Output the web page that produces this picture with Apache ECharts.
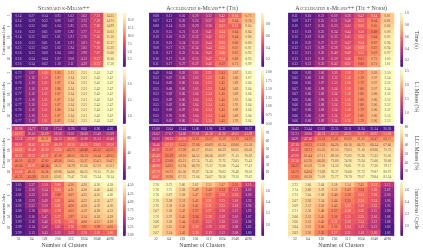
<!DOCTYPE html>
<html>
<head>
<meta charset="utf-8">
<style>
  html, body { margin: 0; padding: 0; background: #fff; }
  #chart { width: 423px; height: 249px; }
</style>
</head>
<body>
<div id="chart"></div>
<script src="https://cdn.jsdelivr.net/npm/echarts@6/dist/echarts.min.js"></script>
<script>
const clusters = ["32", "64", "128", "256", "512", "1024", "2048", "4096"];
const jobs = ["2", "4", "6", "8", "10", "12", "14", "16", "18", "20"];
const methods = ["Standard k-Means++", "Accelerated k-Means++ (Tie)", "Accelerated k-Means++ (Tie + Norm)"];
const metrics = ["Time (s)", "L1 Misses (%)", "LLC Misses (%)", "Instructions / Cycle"];

const timeStd = [
  [0.14, 0.27, 0.54, 0.95, 1.62, 3.62, 7.21, 14.35],
  [0.14, 0.29, 0.52, 0.90, 1.67, 3.75, 7.39, 14.75],
  [0.15, 0.32, 0.61, 1.04, 1.85, 3.75, 7.66, 14.99],
  [0.16, 0.32, 0.61, 0.99, 1.92, 3.77, 7.51, 15.03],
  [0.14, 0.32, 0.62, 1.01, 1.91, 3.76, 7.56, 15.10],
  [0.16, 0.32, 0.61, 1.01, 1.91, 3.81, 7.60, 15.17],
  [0.15, 0.33, 0.62, 1.02, 1.94, 3.85, 7.70, 15.30],
  [0.16, 0.33, 0.60, 1.04, 2.02, 3.99, 7.67, 15.66],
  [0.16, 0.34, 0.64, 1.07, 2.08, 4.13, 8.12, 16.36],
  [0.16, 0.34, 0.62, 1.10, 2.11, 4.39, 8.75, 17.38],
];
const timeTie = [
  [0.08, 0.11, 0.16, 0.29, 0.32, 0.42, 0.54, 0.75],
  [0.07, 0.12, 0.20, 0.26, 0.37, 0.49, 0.64, 0.76],
  [0.08, 0.14, 0.22, 0.29, 0.36, 0.52, 0.53, 0.84],
  [0.10, 0.15, 0.21, 0.31, 0.41, 0.54, 0.64, 0.84],
  [0.10, 0.16, 0.23, 0.32, 0.42, 0.53, 0.64, 0.86],
  [0.10, 0.16, 0.24, 0.33, 0.44, 0.55, 0.66, 0.89],
  [0.08, 0.17, 0.25, 0.34, 0.44, 0.55, 0.67, 0.91],
  [0.11, 0.17, 0.25, 0.34, 0.45, 0.56, 0.67, 0.93],
  [0.10, 0.17, 0.26, 0.35, 0.47, 0.54, 0.69, 0.95],
  [0.11, 0.17, 0.27, 0.37, 0.46, 0.59, 0.71, 0.99],
];
const timeNorm = [
  [0.11, 0.16, 0.21, 0.29, 0.36, 0.47, 0.54, 0.81],
  [0.09, 0.17, 0.25, 0.31, 0.40, 0.53, 0.64, 0.81],
  [0.10, 0.17, 0.26, 0.33, 0.43, 0.55, 0.65, 0.86],
  [0.13, 0.18, 0.25, 0.34, 0.44, 0.50, 0.60, 0.90],
  [0.10, 0.19, 0.26, 0.35, 0.45, 0.55, 0.64, 0.93],
  [0.10, 0.20, 0.27, 0.37, 0.47, 0.54, 0.67, 0.94],
  [0.12, 0.21, 0.29, 0.38, 0.48, 0.59, 0.67, 0.94],
  [0.12, 0.21, 0.30, 0.40, 0.49, 0.55, 0.67, 0.97],
  [0.13, 0.21, 0.30, 0.39, 0.48, 0.61, 0.72, 1.00],
  [0.13, 0.22, 0.32, 0.42, 0.51, 0.60, 0.71, 1.01],
];
const l1Std = [
  [0.73, 1.07, 1.60, 1.85, 2.13, 2.31, 2.41, 2.47],
  [0.77, 1.10, 1.50, 1.87, 2.14, 2.31, 2.42, 2.47],
  [0.76, 1.10, 1.51, 1.87, 2.14, 2.31, 2.42, 2.47],
  [0.77, 1.10, 1.50, 1.86, 2.14, 2.31, 2.42, 2.47],
  [0.77, 1.10, 1.51, 1.87, 2.14, 2.31, 2.42, 2.47],
  [0.77, 1.10, 1.51, 1.87, 2.14, 2.31, 2.42, 2.47],
  [0.77, 1.10, 1.51, 1.87, 2.14, 2.31, 2.42, 2.47],
  [0.76, 1.10, 1.51, 1.86, 2.14, 2.31, 2.42, 2.47],
  [0.77, 1.10, 1.51, 1.87, 2.14, 2.31, 2.42, 2.47],
  [0.77, 1.10, 1.51, 1.87, 2.14, 2.31, 2.42, 2.47],
];
const l1Tie = [
  [0.49, 0.64, 0.83, 1.02, 1.21, 1.41, 1.67, 2.05],
  [0.53, 0.67, 0.86, 1.03, 1.23, 1.45, 1.66, 2.07],
  [0.54, 0.69, 0.86, 1.04, 1.23, 1.45, 1.69, 2.04],
  [0.55, 0.68, 0.86, 1.03, 1.23, 1.44, 1.69, 2.04],
  [0.55, 0.69, 0.86, 1.04, 1.24, 1.45, 1.69, 2.04],
  [0.55, 0.69, 0.86, 1.04, 1.24, 1.45, 1.70, 2.04],
  [0.55, 0.69, 0.86, 1.04, 1.24, 1.45, 1.70, 2.04],
  [0.55, 0.69, 0.87, 1.04, 1.24, 1.45, 1.69, 2.04],
  [0.55, 0.70, 0.86, 1.04, 1.24, 1.44, 1.69, 2.04],
  [0.55, 0.69, 0.86, 1.04, 1.24, 1.45, 1.70, 2.04],
];
const l1Norm = [
  [0.60, 0.83, 1.06, 1.30, 1.56, 1.79, 2.03, 2.50],
  [0.65, 0.86, 1.06, 1.32, 1.56, 1.79, 2.07, 2.54],
  [0.66, 0.85, 1.07, 1.33, 1.56, 1.79, 2.07, 2.52],
  [0.67, 0.86, 1.08, 1.34, 1.56, 1.80, 2.07, 2.54],
  [0.67, 0.86, 1.08, 1.34, 1.56, 1.80, 2.06, 2.52],
  [0.66, 0.86, 1.08, 1.34, 1.56, 1.80, 2.06, 2.52],
  [0.66, 0.86, 1.08, 1.34, 1.56, 1.80, 2.06, 2.52],
  [0.67, 0.86, 1.08, 1.34, 1.56, 1.79, 2.06, 2.52],
  [0.66, 0.86, 1.09, 1.34, 1.57, 1.80, 2.06, 2.53],
  [0.66, 0.86, 1.09, 1.34, 1.56, 1.79, 2.06, 2.53],
];
const llcStd = [
  [28.96, 24.77, 17.81, 17.54, 11.90, 8.66, 6.96, 4.26],
  [41.17, 26.65, 33.09, 28.56, 22.61, 26.60, 23.48, 25.09],
  [32.26, 37.67, 50.21, 34.13, 38.30, 31.00, 31.31, 32.40],
  [38.01, 38.62, 40.59, 40.19, 40.30, 40.25, 39.05, 38.50],
  [43.05, 38.40, 40.50, 42.66, 45.72, 43.88, 45.12, 45.55],
  [38.92, 39.21, 41.91, 47.18, 49.53, 50.13, 50.44, 49.53],
  [46.50, 45.37, 47.60, 49.50, 56.65, 55.37, 55.61, 56.67],
  [46.04, 42.91, 44.14, 58.22, 58.78, 63.66, 62.30, 63.03],
  [41.68, 48.52, 50.26, 60.96, 64.66, 66.55, 70.15, 71.30],
  [46.35, 45.50, 53.01, 63.01, 70.47, 72.61, 75.24, 76.14],
];
const llcTie = [
  [15.08, 13.64, 12.44, 11.80, 11.96, 11.31, 10.68, 10.37],
  [26.62, 27.67, 34.66, 37.61, 41.16, 41.26, 40.65, 41.69],
  [26.03, 38.25, 45.76, 52.01, 53.57, 55.50, 53.79, 54.07],
  [36.46, 47.13, 52.33, 57.06, 60.69, 61.24, 60.60, 63.28],
  [40.21, 51.07, 57.09, 62.37, 65.65, 66.29, 66.65, 66.65],
  [45.43, 50.19, 59.10, 64.53, 66.56, 69.07, 71.15, 70.87],
  [42.29, 53.08, 62.21, 67.74, 71.45, 72.72, 73.05, 75.43],
  [46.90, 54.91, 63.94, 66.70, 73.37, 75.06, 75.44, 77.47],
  [47.79, 58.73, 65.30, 70.07, 74.36, 76.02, 76.40, 78.02],
  [46.67, 58.26, 67.33, 73.04, 74.67, 76.56, 79.30, 79.67],
];
const llcNorm = [
  [24.43, 23.44, 22.83, 22.35, 22.11, 21.94, 21.14, 20.38],
  [32.23, 38.06, 46.74, 47.51, 49.51, 50.71, 48.92, 51.26],
  [34.91, 47.16, 55.53, 57.41, 60.60, 61.22, 58.47, 60.17],
  [47.16, 56.31, 61.30, 64.26, 66.16, 66.73, 66.34, 67.66],
  [46.43, 58.71, 65.05, 67.53, 70.03, 71.16, 69.66, 72.72],
  [47.00, 61.44, 67.11, 69.50, 73.02, 73.36, 73.22, 75.03],
  [51.34, 63.76, 66.65, 72.60, 74.96, 75.94, 75.66, 76.68],
  [54.27, 65.59, 72.00, 74.50, 76.61, 77.15, 77.30, 79.17],
  [56.73, 64.04, 71.69, 76.37, 76.66, 77.72, 79.87, 80.97],
  [57.05, 66.28, 75.00, 75.77, 78.78, 79.57, 79.84, 81.34],
];
const ipcStd = [
  [3.05, 3.37, 3.58, 3.80, 4.10, 4.30, 4.50, 4.58],
  [3.01, 3.36, 3.54, 3.84, 4.11, 4.28, 4.40, 4.45],
  [3.03, 3.33, 3.50, 3.89, 4.07, 4.25, 4.35, 4.60],
  [2.98, 3.29, 3.49, 3.81, 4.04, 4.22, 4.32, 4.37],
  [3.03, 3.32, 3.50, 3.81, 4.00, 4.20, 4.30, 4.36],
  [3.00, 3.18, 3.60, 3.78, 4.02, 4.19, 4.28, 4.33],
  [3.00, 3.16, 3.47, 3.77, 3.97, 4.14, 4.24, 4.28],
  [2.99, 3.16, 3.46, 3.76, 3.82, 4.08, 4.15, 4.20],
  [2.99, 3.14, 3.42, 3.61, 3.76, 3.95, 3.98, 4.03],
  [2.99, 3.13, 3.43, 3.52, 3.59, 3.70, 3.76, 3.80],
];
const ipcTie = [
  [2.76, 2.73, 2.66, 2.62, 2.55, 2.47, 2.35, 2.15],
  [2.76, 2.75, 2.58, 2.49, 2.40, 2.34, 2.22, 2.02],
  [2.76, 2.67, 2.58, 2.47, 2.37, 2.28, 2.25, 2.00],
  [2.70, 2.58, 2.51, 2.43, 2.31, 2.25, 2.18, 1.95],
  [2.70, 2.58, 2.50, 2.41, 2.31, 2.25, 2.18, 1.96],
  [2.67, 2.58, 2.47, 2.37, 2.27, 2.20, 2.12, 1.92],
  [2.70, 2.57, 2.45, 2.34, 2.26, 2.19, 2.10, 1.87],
  [2.68, 2.58, 2.44, 2.33, 2.22, 2.18, 2.10, 1.88],
  [2.67, 2.55, 2.43, 2.30, 2.20, 2.20, 2.08, 1.83],
  [2.67, 2.54, 2.43, 2.28, 2.19, 2.12, 2.08, 1.80],
];
const ipcNorm = [
  [2.72, 2.66, 2.64, 2.58, 2.54, 2.45, 2.31, 2.12],
  [2.74, 2.60, 2.59, 2.52, 2.42, 2.34, 2.26, 2.02],
  [2.72, 2.64, 2.58, 2.46, 2.38, 2.31, 2.26, 2.00],
  [2.67, 2.56, 2.54, 2.44, 2.35, 2.31, 2.24, 1.96],
  [2.69, 2.57, 2.50, 2.43, 2.32, 2.26, 2.23, 1.93],
  [2.71, 2.56, 2.48, 2.37, 2.30, 2.26, 2.15, 1.90],
  [2.66, 2.53, 2.45, 2.36, 2.25, 2.25, 2.16, 1.88],
  [2.66, 2.53, 2.43, 2.31, 2.26, 2.24, 2.13, 1.88],
  [2.64, 2.52, 2.40, 2.36, 2.24, 2.19, 2.12, 1.83],
  [2.63, 2.50, 2.36, 2.27, 2.21, 2.18, 2.20, 1.83],
];

// row by row, then method by method
const panels = [
  [timeStd, timeTie, timeNorm],
  [l1Std, l1Tie, l1Norm],
  [llcStd, llcTie, llcNorm],
  [ipcStd, ipcTie, ipcNorm],
];
const barTicks = [
  [[2.5, 5, 7.5, 10, 12.5, 15], [0.2, 0.4, 0.6, 0.8], [0.2, 0.4, 0.6, 0.8, 1]],
  [[1, 1.5, 2], [0.5, 0.75, 1, 1.25, 1.5, 1.75, 2], [1, 1.5, 2, 2.5]],
  [[20, 40, 60], [20, 30, 40, 50, 60, 70], [30, 40, 50, 60, 70, 80]],
  [[3, 3.25, 3.5, 3.75, 4, 4.25, 4.5], [2, 2.2, 2.4, 2.6], [2, 2.2, 2.4, 2.6]],
];
const barDigits = [
  [1, 1, 1],
  [1, 2, 1],
  [0, 0, 0],
  [2, 1, 1],
];

const magma = ["#4a1a80", "#6a1c81", "#8f2a81", "#b5367a", "#d8466c", "#f1605d", "#fb8761", "#feaa74", "#fecd90", "#fde9a9", "#fcfdbf"];
const serif = "'Liberation Serif', serif";
const textColor = "#444";

const colLeft = [11, 149.3, 288.3];
const rowTop = [13, 70, 126, 182];
const heatW = 105.7;
const heatH = 54;
const barLeft = 111.9;
const barW = 3;

let grid = [], xAxis = [], yAxis = [], visualMap = [], series = [];

panels.forEach((row, r) => {
  row.forEach((values, c) => {
    const flat = values.flat();
    const min = Math.min(...flat);
    const max = Math.max(...flat);
    const heatIndex = grid.length;

    grid.push({ left: colLeft[c], top: rowTop[r], width: heatW, height: heatH });
    xAxis.push({
      type: "category",
      gridIndex: heatIndex,
      data: clusters,
      name: r === 3 ? "Number of Clusters" : "",
      nameLocation: "middle",
      nameGap: 6,
      nameTextStyle: { fontFamily: serif, fontSize: 5.8, color: textColor },
      axisLine: { show: false },
      axisTick: { show: r === 3, length: 1, lineStyle: { width: 0.4, color: textColor } },
      axisLabel: { show: r === 3, fontFamily: serif, fontSize: 3.6, color: textColor, margin: 1.5 },
      splitLine: { show: false },
    });
    yAxis.push({
      type: "category",
      gridIndex: heatIndex,
      data: jobs,
      inverse: true,
      name: c === 0 ? "Concurrent Jobs" : "",
      nameLocation: "middle",
      nameGap: 6,
      nameTextStyle: { fontFamily: serif, fontSize: 4.6, color: textColor },
      axisLine: { show: false },
      axisTick: { show: c === 0, length: 1, lineStyle: { width: 0.4, color: textColor } },
      axisLabel: { show: c === 0, fontFamily: serif, fontSize: 3.2, color: textColor, margin: 1.5, rotate: 90 },
      splitLine: { show: false },
    });

    const data = [];
    values.forEach((line, y) => {
      line.forEach((v, x) => {
        const light = (v - min) / (max - min) > 0.55;
        data.push({ value: [x, y, v], label: { color: light ? "rgba(40,25,40,0.7)" : "rgba(255,245,245,0.72)" } });
      });
    });
    visualMap.push({
      type: "continuous",
      seriesIndex: series.length,
      min: min,
      max: max,
      calculable: false,
      hoverLink: false,
      padding: 0,
      left: colLeft[c] + barLeft,
      top: rowTop[r],
      itemWidth: barW,
      itemHeight: heatH,
      inRange: { color: magma },
    });
    series.push({
      type: "heatmap",
      xAxisIndex: heatIndex,
      yAxisIndex: heatIndex,
      data: data,
      label: {
        show: true,
        fontFamily: serif,
        fontSize: 3.4,
        formatter: (p) => p.value[2].toFixed(2),
      },
      itemStyle: { borderWidth: 0 },
      emphasis: { disabled: true },
    });

    // axis beside the colour bar, only there for its ticks and labels
    const barIndex = grid.length;
    grid.push({ left: colLeft[c] + barLeft, top: rowTop[r], width: barW, height: heatH });
    xAxis.push({ type: "value", gridIndex: barIndex, show: false });
    yAxis.push({
      type: "value",
      gridIndex: barIndex,
      position: "right",
      min: min,
      max: max,
      name: c === 2 ? metrics[r] : "",
      nameLocation: "middle",
      nameRotate: -90,
      nameGap: 11,
      nameTextStyle: { fontFamily: serif, fontSize: 5.2, color: textColor },
      axisLine: { show: false },
      axisTick: { show: true, length: 1, lineStyle: { width: 0.4, color: textColor }, customValues: barTicks[r][c] },
      axisLabel: {
        fontFamily: serif,
        fontSize: 3.4,
        color: textColor,
        margin: 1.5,
        customValues: barTicks[r][c],
        formatter: (v) => v.toFixed(barDigits[r][c]),
      },
      splitLine: { show: false },
    });
  });
});

const title = methods.map((text, c) => ({
  text: text,
  left: colLeft[c] + heatW / 2,
  top: 5.5,
  textAlign: "center",
  padding: 0,
  textStyle: { fontFamily: serif, fontStyle: "small-caps", fontWeight: "normal", fontSize: 6, color: textColor },
}));

const chart = echarts.init(document.getElementById("chart"), null, { renderer: "canvas" });
chart.setOption({
  animation: false,
  backgroundColor: "#fff",
  title: title,
  grid: grid,
  xAxis: xAxis,
  yAxis: yAxis,
  visualMap: visualMap,
  series: series,
});
</script>
</body>
</html>
